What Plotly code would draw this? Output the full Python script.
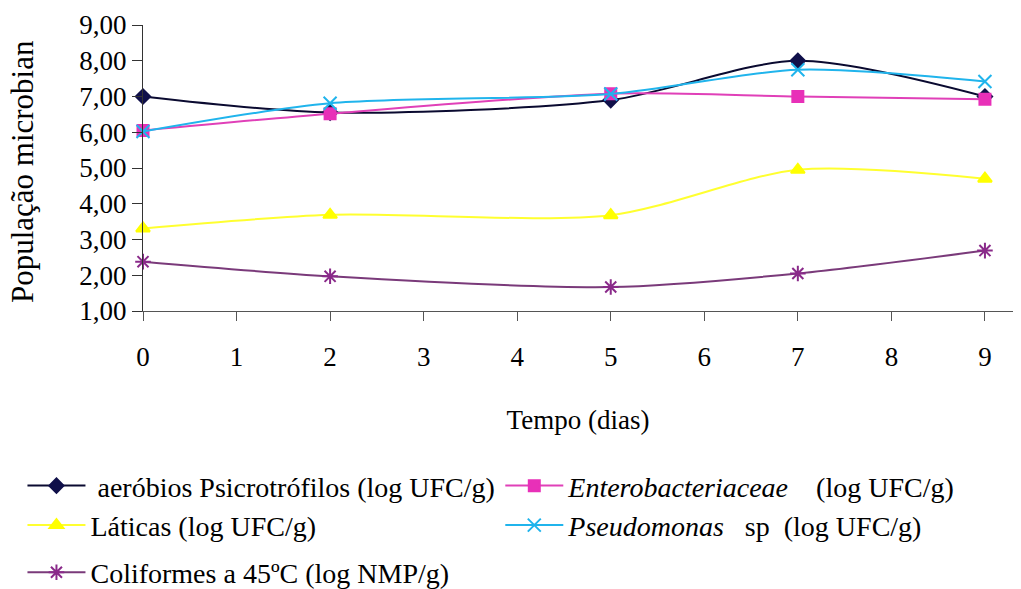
import plotly.graph_objects as go

dias = [0, 2, 5, 7, 9]
aerobios = [7.00, 6.55, 6.90, 8.00, 7.00]
entero = [6.05, 6.52, 7.08, 7.00, 6.92]
pseudo = [6.02, 6.81, 7.07, 7.75, 7.42]
laticas = [3.31, 3.69, 3.68, 4.95, 4.70]
coliformes = [2.38, 1.97, 1.67, 2.05, 2.69]

names = [
    " aeróbios Psicrotrófilos (log UFC/g)",
    "<i>Enterobacteriaceae</i>    (log UFC/g)",
    "Láticas (log UFC/g)",
    "<i>Pseudomonas</i>   sp  (log UFC/g)",
    "Coliformes a 45ºC (log NMP/g)",
]
series = [aerobios, entero, laticas, pseudo, coliformes]
legend_ids = ["legend", "legend2", "legend3", "legend4", "legend5"]
leg_x = [0.022, 0.49, 0.022, 0.49, 0.022]
leg_y = [0.175, 0.175, 0.108, 0.108, 0.028]
line_colors = ["#0a0a30", "#e040b8", "#ffff30", "#20b4ec", "#7a3a7a"]
marker_colors = ["#10104a", "#e830b8", "#ffff00", "#20b4ec", "#8a2a8a"]
symbols = ["diamond", "square", "triangle-up", "x-thin-open", "asterisk-open"]
sizes = [11, 11, 12, 13, 13]

FONT = "Times New Roman, Liberation Serif, serif"

fig = go.Figure()
for n, s, lg, lc, mc, sym, sz in zip(names, series, legend_ids, line_colors, marker_colors, symbols, sizes):
    fig.add_trace(go.Scatter(
        x=dias, y=s, name=n, mode="lines+markers", legend=lg,
        line=dict(color=lc, width=2, shape="spline", smoothing=0.8),
        marker=dict(symbol=sym, size=sz, color=mc, line=dict(color=mc, width=2)),
        cliponaxis=False,
    ))

legends = {}
for lg, lx, ly in zip(legend_ids, leg_x, leg_y):
    legends[lg] = dict(
        orientation="v", xref="container", yref="container",
        x=lx, y=ly, xanchor="left", yanchor="middle",
        font=dict(family=FONT, size=28, color="black"),
        itemwidth=58, bgcolor="rgba(0,0,0,0)", borderwidth=0,
    )

fig.update_layout(
    width=1021, height=589,
    paper_bgcolor="white", plot_bgcolor="white",
    margin=dict(l=143, r=8, t=25, b=278, autoexpand=False),
    separators=",.",
    font=dict(family=FONT, size=25, color="black"),
    showlegend=True,
    **legends,
)
fig.add_annotation(
    text="População microbian", xref="paper", yref="paper",
    x=-0.139, y=0.486, xanchor="center", yanchor="middle",
    textangle=-90, showarrow=False,
    font=dict(family=FONT, size=31, color="black"),
)
fig.update_xaxes(
    range=[0, 9.3], tickmode="array", tickvals=list(range(10)),
    ticktext=[str(i) for i in range(10)],
    showgrid=False, zeroline=False, showline=True, linecolor="#555", linewidth=1,
    ticks="outside", ticklen=9, tickcolor="#555", ticklabelstandoff=13,
    tickfont=dict(family=FONT, size=27, color="black"),
    title=dict(text="Tempo (dias)", font=dict(family=FONT, size=27, color="black"), standoff=38),
)
fig.update_yaxes(
    range=[1, 9], tickmode="array", tickvals=list(range(1, 10)),
    tickformat=".2f",
    showgrid=False, zeroline=False, showline=True, linecolor="#333", linewidth=1,
    ticks="outside", ticklen=10, tickcolor="#333",
    tickfont=dict(family=FONT, size=27, color="black"),
)

fig.write_html("out.html")
